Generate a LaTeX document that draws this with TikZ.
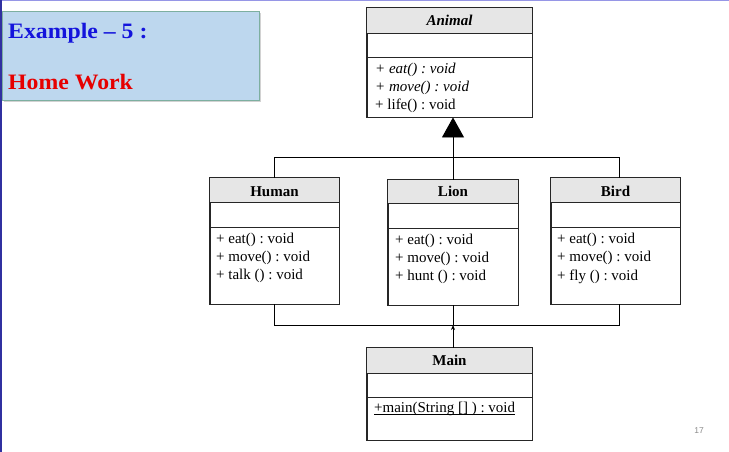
\documentclass[tikz,border=0pt]{standalone}
\usepackage{fontspec}
\setmainfont{Liberation Serif}
\newfontfamily\titlefont[FakeStretch=1.08]{Liberation Serif}
\newfontfamily\pagefont{Liberation Sans}
\usetikzlibrary{arrows.meta,shadows}
\frenchspacing

\definecolor{slideblue}{RGB}{48,48,160}
\definecolor{slidetop}{RGB}{150,150,230}
\definecolor{notefill}{RGB}{189,215,238}
\definecolor{noteedge}{RGB}{125,175,160}
\definecolor{hdrgray}{RGB}{230,230,230}
\definecolor{exblue}{RGB}{20,20,220}
\definecolor{hwred}{RGB}{230,0,0}

\tikzset{
  x=1pt, y=-1pt,
  frame/.style={draw=black!85, line width=0.9pt},
  classframe/.style={frame, rectangle, inner sep=0pt},
  hdr/.style={fill=hdrgray},
  cname/.style={font=\fontsize{15}{17}\selectfont\bfseries, inner sep=0pt, anchor=base},
  member/.style={font=\fontsize{15}{17}\selectfont, inner sep=0pt, anchor=base west},
  wire/.style={draw=black, line width=0.9pt},
  heading/.style={anchor=base west, inner sep=0pt, font=\titlefont\fontsize{22}{26}\selectfont\bfseries},
}

% UML class frame: name, centre x, centre y, width, height,
% bottom of the name compartment, bottom of the attribute compartment
\newcommand\umlclass[7]{%
  \node[classframe, minimum width=#4, minimum height=#5] (#1) at (#2,#3) {};
  \fill[hdr] (#1.north west) rectangle (#1.east |- 0,#6);
  \draw[frame] (#1.west |- 0,#6) -- (#1.east |- 0,#6);
  \draw[frame] (#1.west |- 0,#7) -- (#1.east |- 0,#7);
  \draw[frame] (#1.north west) rectangle (#1.south east);
}

\begin{document}
\begin{tikzpicture}
\useasboundingbox (0,0) rectangle (729,452);
\fill[white] (0,0) rectangle (729,452);

% slide edges
\draw[slidetop, line width=1.5pt] (0,0.75) -- (729,0.75);
\draw[slideblue, line width=1.5pt] (1.2,0) -- (1.2,452);

% heading note
\node[draw=noteedge, fill=notefill, line width=1pt, minimum width=257pt, minimum height=89pt,
      inner sep=0pt, drop shadow={shadow xshift=2pt, shadow yshift=-2pt, opacity=0.35}]
      (note) at (130.5,56) {};
\node[heading, text=exblue] (ex) at (8,39) {Example – 5 :};
\node[heading, text=hwred] (hw) at (8,89) {Home Work};

% classes
\umlclass{animal}{449.5}{62.5}{165pt}{109pt}{33}{57}
\node[cname] (animalname) at (animal.center |- 0,25.3) {\itshape Animal};
\node[member] (a1) at (375,74) {\itshape + eat() : void};
\node[member] (a2) at (375,92) {\itshape + move() : void};
\node[member] (a3) at (375,110) {+ life() : void};

\umlclass{human}{274.5}{241}{129pt}{126pt}{202}{227}
\node[cname] (humanname) at (human.center |- 0,196) {Human};
\node[member] (h1) at (216,243.5) {+ eat() : void};
\node[member] (h2) at (216,261.5) {+ move() : void};
\node[member] (h3) at (216,279.5) {+ talk () : void};

\umlclass{lion}{453}{242.5}{130pt}{125pt}{203}{228}
\node[cname] (lionname) at (lion.center |- 0,196.7) {Lion};
\node[member] (l1) at (395,244) {+ eat() : void};
\node[member] (l2) at (395,262.3) {+ move() : void};
\node[member] (l3) at (395,280.7) {+ hunt () : void};

\umlclass{bird}{615.5}{241}{129pt}{126pt}{202}{227}
\node[cname] (birdname) at (bird.center |- 0,196) {Bird};
\node[member] (b1) at (557,243.3) {+ eat() : void};
\node[member] (b2) at (557,261.7) {+ move() : void};
\node[member] (b3) at (557,280) {+ fly () : void};

\umlclass{main}{449.5}{394}{165pt}{92pt}{373}{397}
\node[cname] (mainname) at (main.center |- 0,365.7) {Main};
\node[member] (m1) at (374,412.3) {+main(String [] ) : void};
% static member: underlined just below the baseline
\draw[black, line width=0.8pt] ([yshift=-2pt]m1.base west) -- ([yshift=-2pt]m1.base east);

% generalisation
\coordinate (topbus) at (0,157);
\coordinate (lowbus) at (0,325);
\draw[wire] (human.north) |- ([xshift=4pt]bird.north |- topbus) -- ([xshift=4pt]bird.north);
\draw[wire, -{Triangle[width=22pt, length=20pt]}] (lion.north) -- (lion.north |- animal.south);

% usage from Main
\draw[wire] (human.south) |- ([xshift=4pt]bird.south |- lowbus) -- ([xshift=4pt]bird.south);
\draw[wire] (lion.south) -- (lion.south |- lowbus);
\draw[wire, -{Stealth[length=5pt, width=4pt]}] (lion.south |- main.north) -- (lion.south |- lowbus);

% page number
\node[text=black!45, font=\pagefont\fontsize{8.5}{10}\selectfont, inner sep=0pt] (pg) at (699,431) {17};
\end{tikzpicture}
\end{document}
